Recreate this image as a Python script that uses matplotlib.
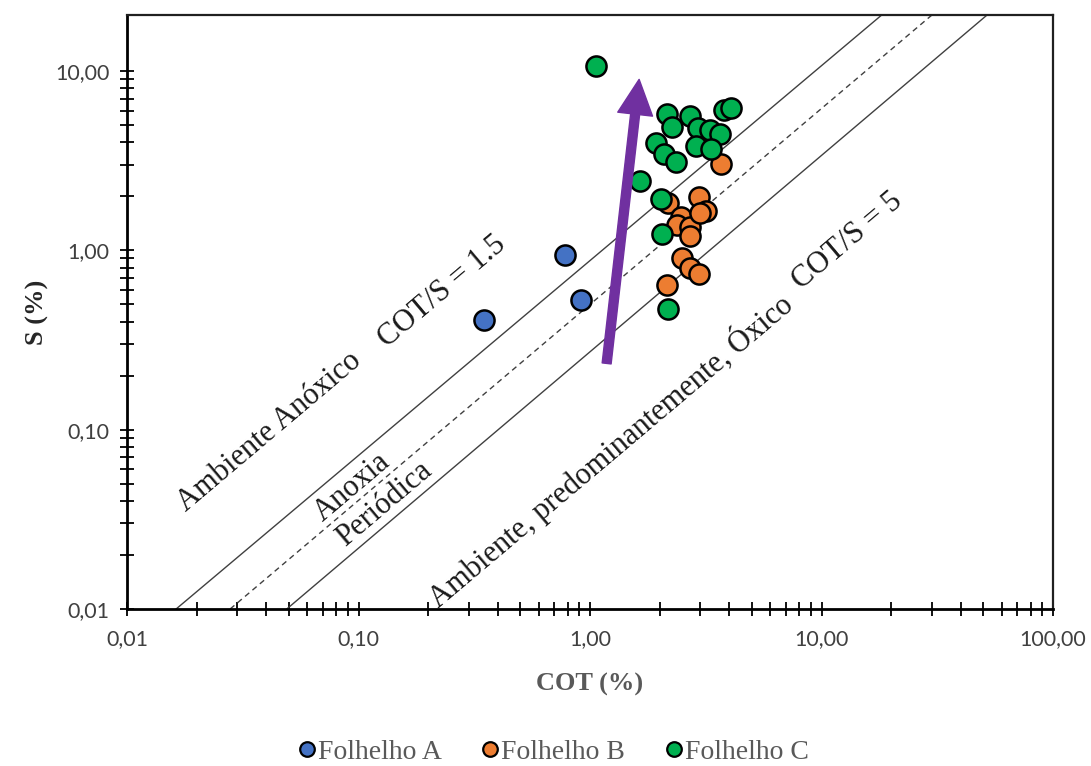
import numpy as np
import matplotlib
matplotlib.use("Agg")
import matplotlib.pyplot as plt
from matplotlib.ticker import FixedLocator, NullFormatter, FixedFormatter
from matplotlib.lines import Line2D

# ---------------- data ----------------
cot_A = [0.35, 0.78, 0.91]
s_A = [0.41, 0.94, 0.53]

cot_B = [3.68, 2.96, 2.17, 3.17, 2.47, 2.38, 2.71, 2.71, 2.50, 2.71, 2.96, 2.15, 3.00]
s_B = [3.01, 1.97, 1.83, 1.65, 1.53, 1.38, 1.34, 1.20, 0.90, 0.80, 0.74, 0.64, 1.62]

cot_C = [1.06, 2.15, 2.26, 2.71, 2.93, 3.30, 3.65, 3.79, 4.06, 1.93, 2.09, 2.35,
         2.87, 3.33, 1.64, 2.03, 2.05, 2.17]
s_C = [10.6, 5.73, 4.85, 5.58, 4.78, 4.66, 4.43, 6.03, 6.18, 3.94, 3.43, 3.09,
       3.80, 3.65, 2.42, 1.92, 1.23, 0.469]

series_names = ["Folhelho A", "Folhelho B", "Folhelho C"]
series_colors = ["#4472C4", "#ED7D31", "#00B050"]

# reference lines (COT, S endpoints)
line_anox_cot = [0.0163, 18.2]
line_anox_s = [0.01, 20.5]
line_per_cot = [0.0279, 30.0]
line_per_s = [0.01, 20.5]
line_ox_cot = [0.049, 51.9]
line_ox_s = [0.01, 20.5]

# trend arrow (COT, S)
arrow_start = (1.18, 0.234)
arrow_end = (1.63, 8.97)

x_major = [0.01, 0.1, 1, 10, 100]
x_labels = ["0,01", "0,10", "1,00", "10,00", "100,00"]
y_major = [0.01, 0.1, 1, 10]
y_labels = ["0,01", "0,10", "1,00", "10,00"]

# ---------------- figure ----------------
W, H, DPI = 1091, 766, 100
fig = plt.figure(figsize=(W / DPI, H / DPI), dpi=DPI)
ax = fig.add_axes([127 / W, 1 - 609 / H, (1053 - 127) / W, (609 - 15) / H])
ax.set_xscale("log")
ax.set_yscale("log")
ax.set_xlim(0.01, 100)
ax.set_ylim(0.01, 20.5)

# ticks
ax.xaxis.set_major_locator(FixedLocator(x_major))
ax.xaxis.set_major_formatter(FixedFormatter(x_labels))
ax.yaxis.set_major_locator(FixedLocator(y_major))
ax.yaxis.set_major_formatter(FixedFormatter(y_labels))
xminor = [d * k for d in [0.01, 0.1, 1, 10] for k in range(2, 10)]
yminor = [d * k for d in [0.01, 0.1, 1] for k in range(2, 10)]
ax.xaxis.set_minor_locator(FixedLocator(xminor))
ax.yaxis.set_minor_locator(FixedLocator(yminor))
ax.xaxis.set_minor_formatter(NullFormatter())
ax.yaxis.set_minor_formatter(NullFormatter())

tick_font = "Lato"
for axis in (ax.xaxis, ax.yaxis):
    axis.set_tick_params(which="both", direction="inout", length=9.5, width=1.3,
                         color="black")
ax.tick_params(axis="x", which="major", pad=10, labelsize=15.5, labelcolor="#404040")
ax.tick_params(axis="y", which="major", pad=8, labelsize=15.5, labelcolor="#404040")
for lab in ax.get_xticklabels() + ax.get_yticklabels():
    lab.set_fontfamily(tick_font)

for side in ["left", "bottom"]:
    ax.spines[side].set_linewidth(2.0)
    ax.spines[side].set_color("black")
for side in ["top", "right"]:
    ax.spines[side].set_linewidth(1.6)
    ax.spines[side].set_color("#202020")

serif = ["Liberation Serif", "DejaVu Serif"]
ax.set_xlabel("COT (%)", fontfamily=serif, fontweight="bold", fontsize=19,
              color="#595959", labelpad=17)
ax.set_ylabel("S (%)", fontfamily=serif, fontweight="bold", fontsize=19,
              color="#262626", labelpad=4)

# reference lines
ax.plot(line_anox_cot, line_anox_s, color="#404040", lw=1.0, zorder=2)
ax.plot(line_per_cot, line_per_s, color="#404040", lw=1.0, ls=(0, (4, 3)), zorder=2)
ax.plot(line_ox_cot, line_ox_s, color="#404040", lw=1.0, zorder=2)

# scatter
for xs, ys, name, col in zip([cot_A, cot_B, cot_C], [s_A, s_B, s_C],
                             series_names, series_colors):
    ax.scatter(xs, ys, s=210, c=col, edgecolors="black", linewidths=1.8,
               zorder=3, label=name)

# arrow
ax.annotate("", xy=arrow_end, xytext=arrow_start,
            arrowprops=dict(arrowstyle="simple,head_length=1.05,head_width=1.05,tail_width=0.27",
                            color="#7030A0", mutation_scale=24, shrinkA=0, shrinkB=0),
            zorder=5)

# annotations
rot = 40.2
tc = "#1a1a1a"
txts = [
    ("Ambiente Anóxico", 0.154, 0.298),
    ("COT/S = 1.5", 0.340, 0.535),
    ("Anoxia", 0.243, 0.205),
    ("Periódica", 0.278, 0.176),
    ("Ambiente, predominantemente, Óxico", 0.522, 0.268),
    ("COT/S = 5", 0.778, 0.62),
]
for t, fx, fy in txts:
    ax.text(fx, fy, t, transform=ax.transAxes, rotation=rot, rotation_mode="anchor",
            ha="center", va="center", fontsize=22, fontfamily=serif, color=tc, zorder=4)

# legend
handles = [Line2D([0], [0], marker="o", ls="none", markersize=10.5,
                  markerfacecolor=c, markeredgecolor="black", markeredgewidth=1.6)
           for c in series_colors]
leg = fig.legend(handles, series_names, loc="center", bbox_to_anchor=(0.508, 0.018),
                 ncol=3, frameon=False, handlelength=0.5, handletextpad=0.15,
                 columnspacing=1.5, prop={"family": serif, "size": 20})
for t in leg.get_texts():
    t.set_color("#595959")

fig.savefig("out.png", dpi=DPI, facecolor="white")
